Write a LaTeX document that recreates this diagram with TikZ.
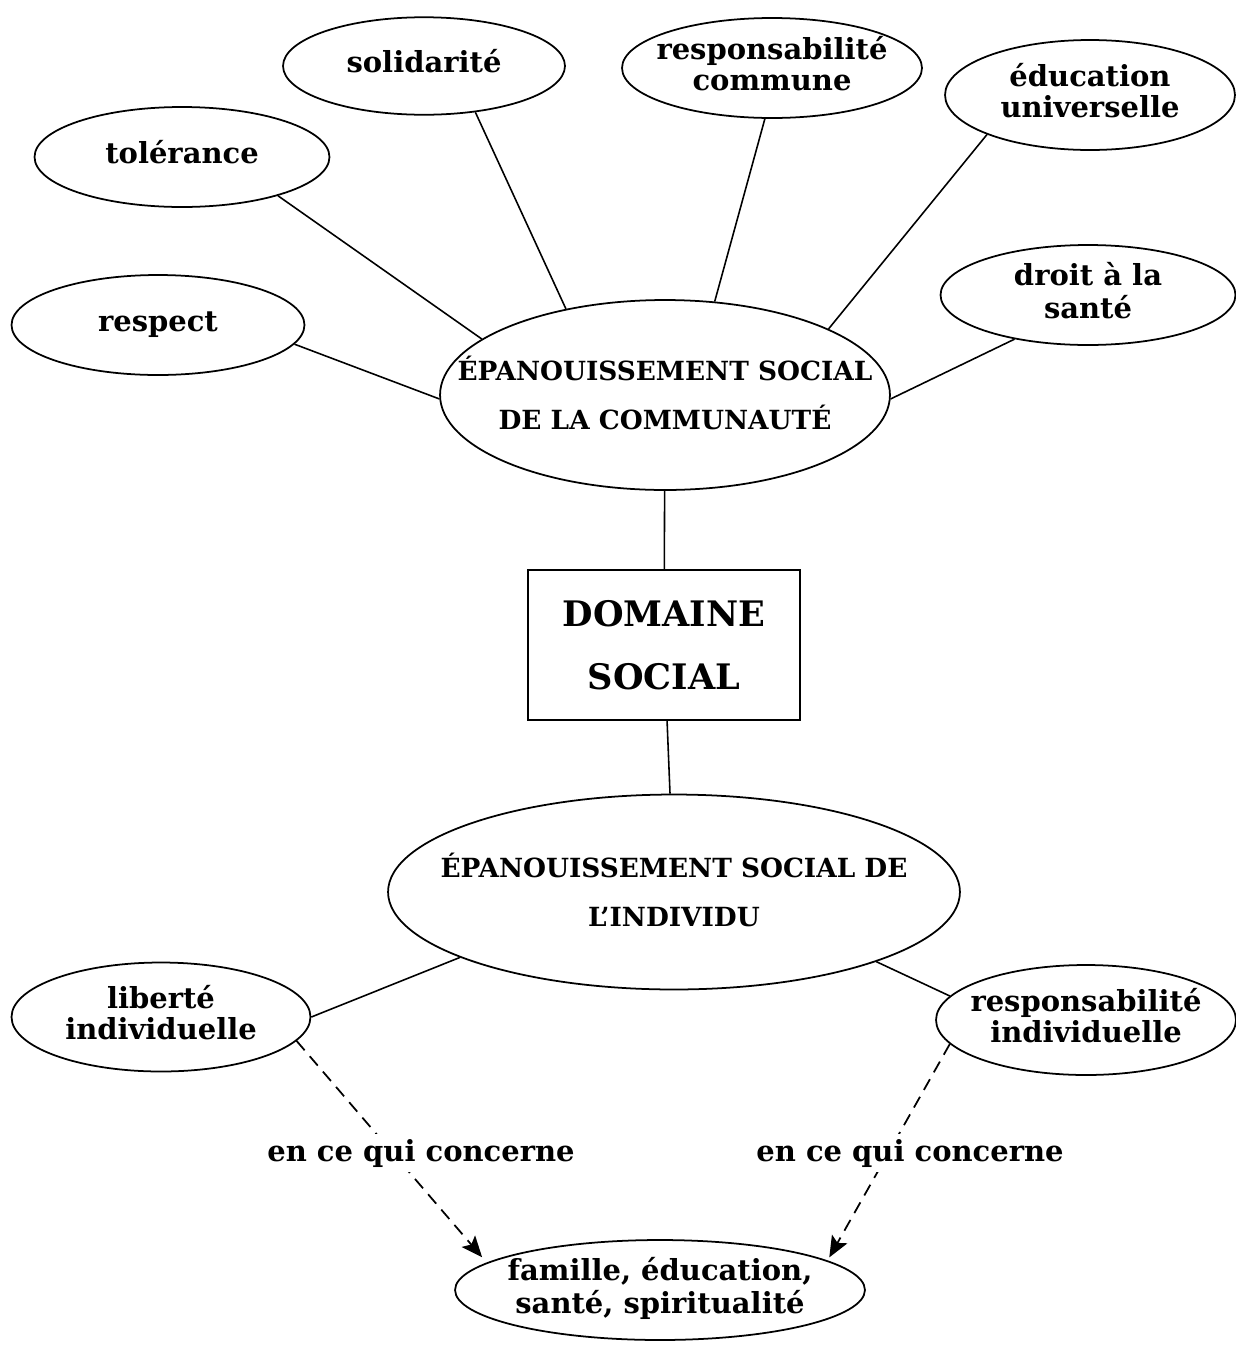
\documentclass[tikz,border=0pt]{standalone}
\usepackage{fontspec}
\setmainfont{DejaVu Serif}
\usepackage{tikz}
\usetikzlibrary{arrows.meta,positioning,shapes.geometric}

% texte centre sans influence sur la taille de l'ellipse
\newcommand{\dedans}[1]{\makebox[0pt]{\raisebox{-2pt}{\begin{tabular}{@{}c@{}}#1\end{tabular}}}}

\begin{document}
\begin{tikzpicture}[
    x=0.02cm, y=-0.02cm,
    bulle/.style={draw, ellipse, line width=1pt, inner sep=0pt, font=\fontsize{16.5}{18}\selectfont\bfseries},
    centre/.style={draw, ellipse, line width=1pt, inner sep=0pt, font=\fontsize{15}{28}\selectfont\bfseries},
    lien/.style={draw, line width=0.9pt},
    renvoi/.style={draw, line width=1pt, dash pattern=on 7pt off 4.5pt, -{Stealth[length=12pt,width=10pt,inset=2.5pt]}},
    lbl/.style={fill=white, inner sep=3pt, font=\fontsize{16.5}{18}\selectfont\bfseries}
]
\useasboundingbox (0,0) rectangle (1235,1346);

\node[bulle, minimum width=5.9cm, minimum height=2cm] (tol) at (182,157) {\dedans{tolérance}};
\node[bulle, minimum width=5.64cm, minimum height=1.95cm] (sol) at (424,66) {\dedans{solidarité}};
\node[bulle, minimum width=6cm, minimum height=2cm] (rcom) at (772,68) {\dedans{responsabilité\\commune}};
\node[bulle, minimum width=5.8cm, minimum height=2.2cm] (edu) at (1090,95) {\dedans{éducation\\universelle}};
\node[bulle, minimum width=5.9cm, minimum height=2cm] (sante) at (1088,295) {\dedans{droit à la\\santé}};
\node[bulle, minimum width=5.86cm, minimum height=2cm] (resp) at (158,325) {\dedans{respect}};
\node[centre, minimum width=9cm, minimum height=3.8cm] (comm) at (665,395) {\dedans{ÉPANOUISSEMENT SOCIAL\\DE LA COMMUNAUTÉ}};

\node[draw, line width=1pt, minimum width=5.44cm, minimum height=3cm, align=center,
      font=\fontsize{20}{36}\selectfont\bfseries] (dom) at (664,645) {DOMAINE\\SOCIAL};

\node[centre, minimum width=11.44cm, minimum height=3.9cm] (indiv) at (674,892) {\dedans{ÉPANOUISSEMENT SOCIAL DE\\L'INDIVIDU}};
\node[bulle, minimum width=5.98cm, minimum height=2.18cm] (lib) at (161,1017) {\dedans{liberté\\individuelle}};
\node[bulle, minimum width=6cm, minimum height=2.2cm] (rind) at (1086,1020) {\dedans{responsabilité\\individuelle}};
\node[bulle, minimum width=8.2cm, minimum height=2cm] (fam) at (660,1290) {\dedans{famille, éducation,\\santé, spiritualité}};

\draw[lien] (tol.-22) -- (comm.163);
\draw[lien] (sol.-42) -- (comm.139);
\draw[lien] (rcom.-98) -- (comm.62);
\draw[lien] (edu.-159) -- (comm.22);
\draw[lien] (sante.-149) -- (comm.-1);
\draw[lien] (resp.-8) -- (comm.-179);
\draw[lien] (comm) -- (dom);
\draw[lien] (dom) -- (indiv);
\draw[lien] (indiv.-163) -- (lib.0);
\draw[lien] (indiv.-19) -- (rind.170);

\draw[renvoi, shorten >=4pt] (lib.-10) -- (fam.171);
\draw[renvoi, shorten >=2pt] (rind.-170) -- (fam.10);
\node[lbl] (ecq1) at (421,1153) {en ce qui concerne};
\node[lbl] (ecq2) at (910,1153) {en ce qui concerne};
\end{tikzpicture}
\end{document}
